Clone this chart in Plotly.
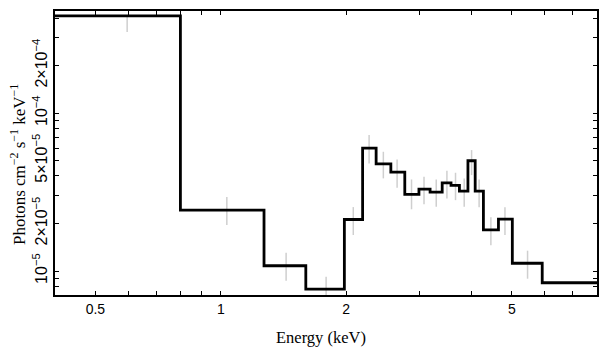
import plotly.graph_objects as go
import math

# Bin edges (keV) of the step histogram
bin_edges = [0.4, 0.8, 1.27, 1.60, 1.98, 2.19, 2.36, 2.56, 2.765, 2.99, 3.18,
             3.40, 3.57, 3.74, 3.92, 4.08, 4.27, 4.64, 5.01, 5.91, 8.0]
# Step levels (photons cm^-2 s^-1 keV^-1)
step_levels = [4.13e-4, 2.43e-5, 1.08e-5, 7.69e-6, 2.12e-5, 6.00e-5, 4.77e-5,
               4.23e-5, 3.06e-5, 3.30e-5, 3.16e-5, 3.62e-5, 3.49e-5, 3.21e-5,
               4.99e-5, 3.21e-5, 1.82e-5, 2.13e-5, 1.12e-5, 8.43e-6]

# Data error bars: energy, lower, upper
err_energy = [0.596, 1.034, 1.435, 1.79, 2.08, 2.27, 2.456, 2.65, 2.87, 3.075,
              3.29, 3.49, 3.66, 3.84, 4.00, 4.17, 4.45, 4.81, 5.45]
err_low = [3.26e-4, 1.955e-5, 8.68e-6, 6.5e-6, 1.69e-5, 4.80e-5, 3.86e-5, 3.37e-5,
           2.46e-5, 2.65e-5, 2.55e-5, 2.88e-5, 2.81e-5, 2.55e-5, 4.05e-5, 2.53e-5,
           1.455e-5, 1.69e-5, 8.94e-6]
err_high = [4.10e-4, 2.94e-5, 1.306e-5, 9.2e-6, 2.54e-5, 7.26e-5, 5.69e-5, 5.09e-5,
            3.80e-5, 3.95e-5, 3.80e-5, 4.31e-5, 4.19e-5, 3.86e-5, 5.83e-5, 3.80e-5,
            2.19e-5, 2.53e-5, 1.345e-5]

x_label_vals = [0.5, 1, 2, 5]
x_label_text = ["0.5", "1", "2", "5"]
x_minor_vals = [0.4, 0.6, 0.7, 0.8, 0.9, 3, 4, 6, 7, 8]
y_label_vals = [1e-5, 2e-5, 5e-5, 1e-4, 2e-4]
y_label_text = ["10<sup>−5</sup>", "2×10<sup>−5</sup>", "5×10<sup>−5</sup>",
                "10<sup>−4</sup>", "2×10<sup>−4</sup>"]
y_minor_vals = [7e-6, 8e-6, 9e-6, 3e-5, 4e-5, 6e-5, 7e-5, 8e-5, 9e-5, 3e-4, 4e-4]
x_title = "Energy (keV)"
y_title = "Photons cm<sup>−2</sup> s<sup>−1</sup> keV<sup>−1</sup>"
x_range = [0.4, 8.0]
y_range = [7.05e-6, 4.43e-4]

ex, ey = [], []
for e, lo, hi in zip(err_energy, err_low, err_high):
    ex += [e, e, None]
    ey += [lo, hi, None]

fig = go.Figure()
fig.add_trace(go.Scatter(x=ex, y=ey, mode="lines",
                         line=dict(color="#cfcfcf", width=1.5),
                         hoverinfo="skip", showlegend=False))
fig.add_trace(go.Scatter(x=bin_edges, y=step_levels + [step_levels[-1]],
                         mode="lines", line=dict(color="black", width=2.8, shape="hv"),
                         showlegend=False))

tick_font = dict(family="Liberation Sans, Arial, sans-serif", size=14, color="black")
ytick_font = dict(family="Liberation Sans, Arial, sans-serif", size=16, color="black")
serif = "Liberation Serif, Times New Roman, serif"
minor_style = dict(ticks="inside", ticklen=4, tickwidth=1.3, tickcolor="black",
                   showgrid=False, tickmode="array")
fig.update_layout(
    width=609, height=357,
    margin=dict(l=55, r=12, t=11, b=62),
    paper_bgcolor="white", plot_bgcolor="white",
    xaxis=dict(type="log", range=[math.log10(v) for v in x_range],
               tickmode="array", tickvals=x_label_vals, ticktext=x_label_text,
               ticks="inside", ticklen=4, tickwidth=1.3, tickcolor="black",
               minor=dict(tickvals=x_minor_vals, **minor_style),
               showline=True, linecolor="black", linewidth=2, mirror="ticks",
               showgrid=False, zeroline=False, tickfont=tick_font, automargin=False),
    yaxis=dict(type="log", range=[math.log10(v) for v in y_range],
               tickmode="array", tickvals=y_label_vals, ticktext=y_label_text,
               tickangle=-90,
               ticks="inside", ticklen=4, tickwidth=1.3, tickcolor="black",
               minor=dict(tickvals=y_minor_vals, **minor_style),
               showline=True, linecolor="black", linewidth=2, mirror="ticks",
               showgrid=False, zeroline=False, tickfont=ytick_font, automargin=False),
    xaxis2=dict(type="log", range=[math.log10(v) for v in x_range], overlaying="x",
                anchor="y", side="bottom", tickmode="array", tickvals=[1],
                ticks="inside", ticklen=8, tickwidth=1.3, tickcolor="black",
                showticklabels=False, showline=False, mirror="ticks",
                showgrid=False, zeroline=False, automargin=False),
    yaxis2=dict(type="log", range=[math.log10(v) for v in y_range], overlaying="y",
                anchor="x", side="left", tickmode="array", tickvals=[1e-5, 1e-4],
                ticks="inside", ticklen=8, tickwidth=1.3, tickcolor="black",
                showticklabels=False, showline=False, mirror="ticks",
                showgrid=False, zeroline=False, automargin=False),
    annotations=[
        dict(text=x_title, xref="paper", yref="paper", x=0.5, y=0,
             xanchor="center", yanchor="middle", xshift=-5, yshift=-42,
             showarrow=False, font=dict(family=serif, size=16.5, color="black")),
        dict(text=y_title, xref="paper", yref="paper", x=0, y=0.5,
             xanchor="center", yanchor="middle", xshift=-37, yshift=-12,
             textangle=-90, showarrow=False,
             font=dict(family=serif, size=17, color="black")),
    ],
)

fig.write_html("out.html", post_script="document.body.style.margin='0';",
               config={"displayModeBar": False})
